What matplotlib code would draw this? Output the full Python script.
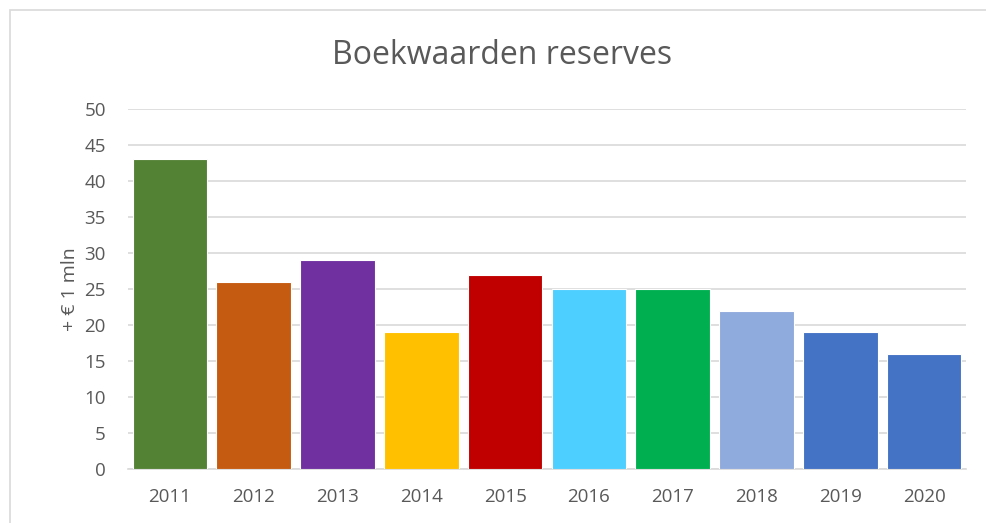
import matplotlib.pyplot as plt
from matplotlib.patches import Rectangle

# data
years = ["2011", "2012", "2013", "2014", "2015", "2016", "2017", "2018", "2019", "2020"]
values = [43, 26, 29, 19, 27, 25, 25, 22, 19, 16]
colors = ["#548235", "#C55A11", "#7030A0", "#FFC000", "#C00000",
          "#4DCFFF", "#00B050", "#8FAADC", "#4472C4", "#4472C4"]

plt.rcParams["font.family"] = ["Open Sans", "DejaVu Sans"]

fig = plt.figure(figsize=(9.86, 5.23), dpi=100)
ax = fig.add_axes([128 / 986, 1 - 469 / 523, (966 - 128) / 986, (469 - 109) / 523])

bars = ax.bar(years, values, width=0.89, color=colors, edgecolor="white", linewidth=0.8, zorder=3)

ax.set_ylim(0, 50)
ax.set_xlim(-0.5, len(years) - 0.5)
ax.set_yticks(range(0, 51, 5))
ax.grid(axis="y", color="#D9D9D9", linewidth=1.2, zorder=0)
for s in ["top", "right", "left"]:
    ax.spines[s].set_visible(False)
ax.spines["bottom"].set_color("#D9D9D9")
ax.spines["bottom"].set_linewidth(1.2)
ax.tick_params(axis="both", length=0, colors="#595959", labelsize=13.5)
ax.tick_params(axis="x", pad=14)
ax.tick_params(axis="y", pad=16)

ax.set_ylabel("+ € 1 mln", color="#595959", fontsize=14, labelpad=4)
fig.text(0.509, 0.893, "Boekwaarden reserves", ha="center", va="center",
         fontsize=23, color="#595959")

# light chart border like the original
fig.patches.append(Rectangle((10 / 986, -0.05), 1.2, 1 - 10 / 523 + 0.05,
                             transform=fig.transFigure, fill=False,
                             edgecolor="#D9D9D9", linewidth=1.2))

fig.savefig("out.png", dpi=100)
